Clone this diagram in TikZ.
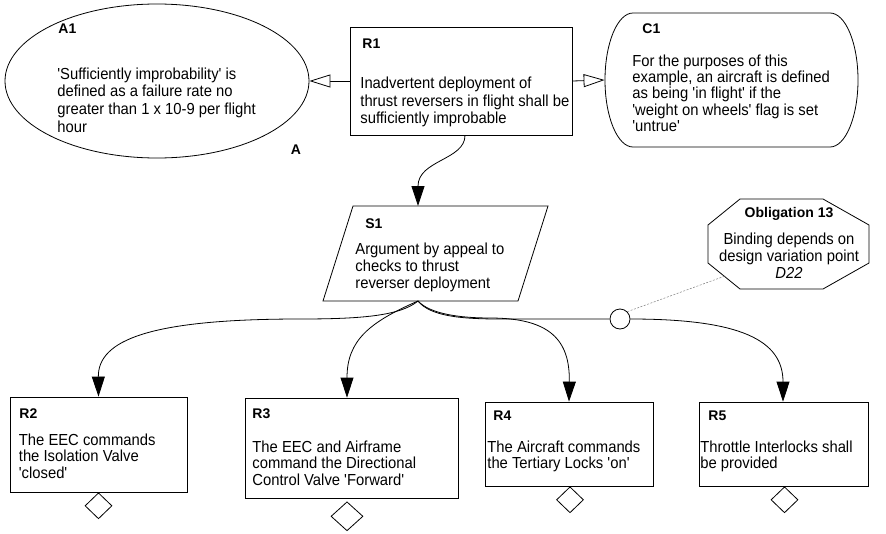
\documentclass[tikz,border=0pt]{standalone}
\usepackage{graphicx}
\usepackage{fontspec}
\setmainfont{Liberation Sans}[Ligatures=TeXOff]
\usetikzlibrary{arrows.meta,shapes.geometric}
\newcommand\txtl[1]{\scalebox{1}[1.08]{\begin{tabular}[t]{@{}l@{}}#1\end{tabular}}}
\newcommand\txtc[1]{\scalebox{1}[1.08]{\begin{tabular}[t]{@{}c@{}}#1\end{tabular}}}
\begin{document}
\begin{tikzpicture}[x=1pt,y=1pt,line width=0.8pt,
  box/.style={draw,rectangle,inner sep=0pt},
  ttl/.style={anchor=base west,inner sep=0pt,font=\fontsize{14}{16}\selectfont\bfseries},
  body/.style={anchor=base west,inner sep=0pt,font=\fontsize{14.8}{#1}\selectfont},
  body/.default=16.4,
  solidarrow/.style={-{Triangle[length=20pt,width=13pt]}},
  ctxarrow/.style={-{Triangle[length=21pt,width=13pt,fill=white]}},
  away/.style={draw,diamond,inner sep=0pt,minimum width=27pt,minimum height=26pt,fill=white}
]
\fill[white] (0,0) rectangle (886,-533);
\useasboundingbox (0,0) rectangle (886,-533);

% shapes
\node[draw,ellipse,inner sep=0pt,minimum width=304pt,minimum height=154pt] (a1) at (157,-81) {};
\node[box,minimum width=222pt,minimum height=108pt] (r1) at (461,-81) {};
\node[inner sep=0pt,minimum width=253pt,minimum height=134pt] (c1) at (731.5,-80) {};
\draw (633,-13) -- (830,-13) arc[start angle=90,end angle=-90,x radius=28pt,y radius=67pt]
      -- (633,-147) arc[start angle=270,end angle=90,x radius=28pt,y radius=67pt] -- cycle;
\draw (353,-206) -- (548,-206) -- (518,-301) -- (323,-301) -- cycle;
\coordinate (s1t) at (418,-206);
\coordinate (s1b) at (418,-301);
\draw (740,-199) -- (823,-199) -- (869,-225) -- (869,-263) -- (823,-289) -- (740,-289)
      -- (708,-263) -- (708,-225) -- cycle;
\coordinate (obc) at (725,-276);
\node[box,minimum width=177pt,minimum height=95pt] (r2) at (98.5,-444.5) {};
\node[box,minimum width=213pt,minimum height=100pt] (r3) at (351.5,-448) {};
\node[box,minimum width=168pt,minimum height=84pt] (r4) at (569,-444) {};
\node[box,minimum width=169pt,minimum height=84pt] (r5) at (783.5,-444) {};

% texts
\node[ttl] (a1t) at (58,-33) {A1};
\node[body] (a1b) at (57,-79) {\txtl{'Sufficiently improbability' is\\defined as a failure rate no\\greater than 1 x 10-9 per flight\\hour}};
\node[inner sep=0pt,font=\fontsize{14}{16}\selectfont\bfseries] (alab) at (296,-150) {A};
\node[ttl] (r1t) at (362,-48) {R1};
\node[body] (r1b) at (360,-88.3) {\txtl{Inadvertent deployment of\\thrust reversers in flight shall be\\sufficiently improbable}};
\node[ttl] (c1t) at (642,-33) {C1};
\node[body=14.8] (c1b) at (632,-66) {\txtl{For the purposes of this\\example, an aircraft is defined\\as being 'in flight' if the\\'weight on wheels' flag is set\\'untrue'}};
\node[ttl] (s1tt) at (365,-228) {S1};
\node[body=16.2] (s1bb) at (355,-254) {\txtl{Argument by appeal to\\checks to thrust\\reverser deployment}};
\node[ttl,anchor=base] (obt) at (789,-217) {Obligation 13};
\node[body=16.2,anchor=base] (obb) at (789,-244) {\txtc{Binding depends on\\design variation point\\\textit{D22}}};
\node[ttl] (r2t) at (19,-418) {R2};
\node[body=15.5] (r2b) at (18.5,-445) {\txtl{The EEC commands\\the Isolation Valve\\'closed'}};
\node[ttl] (r3t) at (252,-418) {R3};
\node[body=15.7] (r3b) at (252,-452) {\txtl{The EEC and Airframe\\command the Directional\\Control Valve 'Forward'}};
\node[ttl] (r4t) at (493,-420) {R4};
\node[body=15.7] (r4b) at (487,-452) {\txtl{The Aircraft commands\\the Tertiary Locks 'on'}};
\node[ttl] (r5t) at (708,-420) {R5};
\node[body=15.7] (r5b) at (700,-452) {\txtl{Throttle Interlocks shall\\be provided}};

% connectors
\draw[ctxarrow] (r1.west) -- (a1.east);
\draw[ctxarrow] (r1.east) -- (c1.west);
\draw[solidarrow] ([xshift=4pt]r1.south) .. controls (465,-160) and (418,-160) .. (s1t);
\draw[solidarrow] (s1b) .. controls (400,-316) and (360,-319) .. (300,-319)
      .. controls (150,-319) and (98,-340) .. (r2.north);
\draw[solidarrow] (s1b) .. controls (370,-322) and (347,-340) .. ([xshift=-4.5pt]r3.north);
\draw[solidarrow] (s1b) .. controls (430,-314) and (460,-318) .. (490,-318)
      .. controls (550,-318) and (570,-340) .. (r4.north);
\node[draw,circle,inner sep=0pt,minimum size=20pt,fill=white] (vp) at (620,-319) {};
\draw (s1b) .. controls (430,-316) and (460,-319) .. (500,-319) -- (vp.west);
\draw[solidarrow] (vp.east) .. controls (740,-319) and (783,-340) .. ([xshift=-0.5pt]r5.north);
\draw[dashed,gray,line width=0.5pt,dash pattern=on 2pt off 1.5pt] (vp.north east) -- (obc);

% away-goal diamonds
\node[away,anchor=north] (d2) at (r2.south) {};
\node[away,anchor=north,minimum width=32pt,minimum height=29pt] (d3) at ([yshift=-3pt,xshift=-4.5pt]r3.south) {};
\node[away,anchor=north] (d4) at ([xshift=1pt]r4.south) {};
\node[away,anchor=north] (d5) at ([xshift=1pt]r5.south) {};
\end{tikzpicture}
\end{document}
